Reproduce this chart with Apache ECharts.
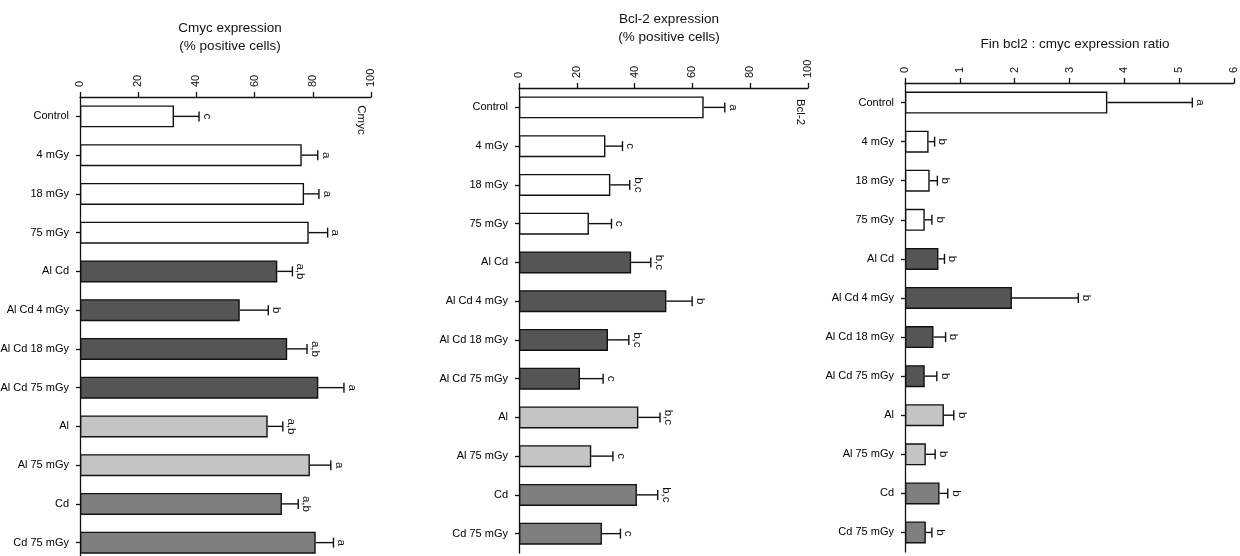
<!DOCTYPE html>
<html>
<head>
<meta charset="utf-8">
<script src="https://cdn.jsdelivr.net/npm/echarts@6/dist/echarts.min.js"></script>
<style>html,body{margin:0;padding:0;background:#fff;}#c{width:1240px;height:556px;}</style>
</head>
<body>
<div id="c"></div>
<script>
// ---- data ----
var categories = ['Control','4 mGy','18 mGy','75 mGy','Al Cd','Al Cd 4 mGy','Al Cd 18 mGy','Al Cd 75 mGy','Al','Al 75 mGy','Cd','Cd 75 mGy'];
var groups = ['none','none','none','none','AlCd','AlCd','AlCd','AlCd','Al','Al','Cd','Cd'];

var cmycValues = [32.3, 76.2, 77.0, 78.6, 67.8, 54.9, 71.2, 81.9, 64.5, 79.0, 69.4, 81.0];
var cmycErrors = [8.6, 5.5, 5.1, 6.5, 5.2, 9.8, 6.8, 8.8, 5.2, 7.2, 5.6, 6.1];
var cmycLetters = ['c','a','a','a','a,b','b','a,b','a','a,b','a','a,b','a'];

var bcl2Values = [63.9, 29.9, 31.6, 24.2, 38.8, 51.0, 30.8, 21.1, 41.3, 25.0, 40.8, 28.7];
var bcl2Errors = [7.3, 5.9, 6.7, 7.8, 6.8, 8.9, 7.2, 8.0, 7.5, 7.5, 7.2, 6.4];
var bcl2Letters = ['a','c','b,c','c','b,c','b','b,c','c','b,c','c','b,c','c'];

var ratioValues = [3.69, 0.43, 0.45, 0.36, 0.61, 1.95, 0.52, 0.36, 0.71, 0.38, 0.63, 0.38];
var ratioErrors = [1.55, 0.11, 0.14, 0.13, 0.11, 1.21, 0.22, 0.22, 0.18, 0.17, 0.15, 0.11];
var ratioLetters = ['a','b','b','b','b','b','b','b','b','b','b','b'];

var pctTicks = [0, 20, 40, 60, 80, 100];
var ratioTicks = [0, 1, 2, 3, 4, 5, 6];

var titles = ['Cmyc expression\n(% positive cells)', 'Bcl-2 expression\n(% positive cells)', 'Fin bcl2 : cmyc expression ratio'];
var axisNames = ['Cmyc', 'Bcl-2', ''];

// ---- styles ----
var groupColor = { none: '#ffffff', AlCd: '#555555', Al: '#c4c4c4', Cd: '#7f7f7f' };
var ink = '#111111';
var FONT = '"Liberation Sans", Arial, Helvetica, sans-serif';

var panels = [
  { vals: cmycValues, errs: cmycErrors, letters: cmycLetters, ticks: pctTicks, grid: { left: 80, top: 97, width: 291, height: 465 }, title: { x: 225, y: 14 }, name: { x: 361, y: 120 } },
  { vals: bcl2Values, errs: bcl2Errors, letters: bcl2Letters, ticks: pctTicks, grid: { left: 519, top: 88, width: 289, height: 465 }, title: { x: 664, y: 5 }, name: { x: 800, y: 112 } },
  { vals: ratioValues, errs: ratioErrors, letters: ratioLetters, ticks: ratioTicks, grid: { left: 905, top: 83, width: 329, height: 469 }, title: { x: 1070, y: 30 }, name: null }
];

var option = { animation: false, backgroundColor: '#fff', grid: [], xAxis: [], yAxis: [], series: [], title: [], graphic: [] };

panels.forEach(function (p, k) {
  var t = p.ticks;
  var g = Object.assign({ containLabel: false, outerBoundsMode: 'none' }, p.grid);
  option.grid.push(g);
  option.xAxis.push({
    type: 'value', gridIndex: k, position: 'top', min: t[0], max: t[t.length - 1], interval: t[1] - t[0],
    axisLine: { show: true, lineStyle: { color: ink, width: 1.3 } },
    axisTick: { show: true, length: 5, lineStyle: { color: ink, width: 1.3 } },
    splitLine: { show: false },
    axisLabel: { rotate: -90, margin: 10, color: ink, fontSize: 11, fontFamily: FONT }
  });
  option.yAxis.push({
    type: 'category', gridIndex: k, inverse: true, data: categories,
    axisLine: { show: true, lineStyle: { color: ink, width: 1.3 } },
    axisTick: { show: true, alignWithLabel: true, length: 4, lineStyle: { color: ink, width: 1.3 } },
    axisLabel: { color: '#000', fontSize: 11, fontFamily: FONT, margin: 11 }
  });
  option.series.push({
    type: 'bar', xAxisIndex: k, yAxisIndex: k, barWidth: 22,
    data: p.vals.map(function (v, i) {
      return { value: v, itemStyle: { color: groupColor[groups[i]], borderColor: ink, borderWidth: 1.4 } };
    })
  });
  option.series.push({
    type: 'custom', xAxisIndex: k, yAxisIndex: k, clip: false, z: 5,
    data: p.vals.map(function (v, i) { return [v, i, v + p.errs[i]]; }),
    renderItem: function (params, api) {
      var a = api.coord([api.value(0), api.value(1)]);
      var b = api.coord([api.value(2), api.value(1)]);
      var txt = p.letters[params.dataIndex];
      return {
        type: 'group',
        children: [
          { type: 'line', shape: { x1: a[0], y1: a[1], x2: b[0], y2: b[1] }, style: { stroke: ink, lineWidth: 1.4 } },
          { type: 'line', shape: { x1: b[0], y1: b[1] - 5, x2: b[0], y2: b[1] + 5 }, style: { stroke: ink, lineWidth: 1.4 } },
          { type: 'text', x: b[0] + 8, y: b[1], rotation: -Math.PI / 2,
            style: { text: txt, align: 'center', verticalAlign: 'middle', textAlign: 'center', textVerticalAlign: 'middle', fill: ink, fontSize: 11.5, fontFamily: FONT } }
        ]
      };
    }
  });
  option.title.push({
    text: titles[k], left: p.title.x, top: p.title.y, textAlign: 'center',
    textStyle: { fontSize: 13.5, fontWeight: 'normal', color: '#111', fontFamily: FONT, lineHeight: 18 }
  });
  if (p.name && axisNames[k]) {
    option.graphic.push({
      type: 'text', x: p.name.x, y: p.name.y, rotation: -Math.PI / 2,
      style: { text: axisNames[k], align: 'center', verticalAlign: 'middle', textAlign: 'center', textVerticalAlign: 'middle', fill: ink, fontSize: 11.5, fontFamily: FONT }
    });
  }
});

var chart = echarts.init(document.getElementById('c'), null, { renderer: 'canvas' });
chart.setOption(option);
</script>
</body>
</html>
